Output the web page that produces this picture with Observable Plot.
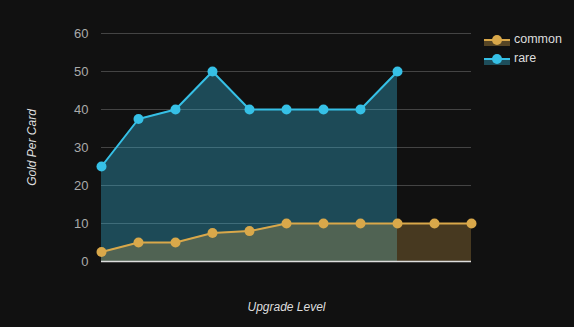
<!DOCTYPE html>
<html><head><meta charset="utf-8">
<script src="https://cdn.jsdelivr.net/npm/d3@7"></script>
<script src="https://cdn.jsdelivr.net/npm/@observablehq/plot@0.6"></script>
<style>
html,body{margin:0;padding:0;background:#111;}
#wrap{position:relative;width:574px;height:327px;overflow:hidden;background:#111;font-family:"Liberation Sans",Arial,sans-serif;}
#legend{position:absolute;left:484px;top:30px;color:#ddd;font-size:12.5px;line-height:19px;}
#legend div{display:flex;align-items:center;height:19px;}
#legend svg{margin-right:4px;}
</style></head>
<body><div id="wrap"><div id="chart"></div><div id="legend"></div></div>
<script>
const levels = [1,2,3,4,5,6,7,8,9,10,11];
const common = [2.5,5,5,7.5,8,10,10,10,10,10,10];
const rare = [25,37.5,40,50,40,40,40,40,50];
const yTicks = [0,10,20,30,40,50,60];
const seriesNames = ["common","rare"];
const colors = {common:"#d9a84a", rare:"#36c0e6"};

const commonData = common.map((v,i)=>({x:levels[i], y:v}));
const rareData = rare.map((v,i)=>({x:levels[i], y:v}));

const chart = Plot.plot({
  width:574, height:327,
  marginLeft:101, marginRight:103, marginTop:33, marginBottom:66,
  style:{background:"#111", color:"#aaa", fontSize:"12px", fontFamily:"Liberation Sans, Arial, sans-serif"},
  x:{domain:[1,11], axis:null},
  y:{domain:[0,60], ticks:yTicks, grid:false, label:null},
  marks:[
    Plot.gridY(yTicks, {stroke:"#444", strokeOpacity:1, strokeWidth:1}),
    Plot.areaY(rareData, {x:"x", y:"y", fill:colors.rare, fillOpacity:0.33}),
    Plot.areaY(commonData, {x:"x", y:"y", fill:colors.common, fillOpacity:0.27}),
    Plot.ruleY([0], {stroke:"#ddd", strokeWidth:1.5}),
    Plot.lineY(rareData, {x:"x", y:"y", stroke:colors.rare, strokeWidth:2}),
    Plot.lineY(commonData, {x:"x", y:"y", stroke:colors.common, strokeWidth:2}),
    Plot.dot(rareData, {x:"x", y:"y", fill:colors.rare, r:5}),
    Plot.dot(commonData, {x:"x", y:"y", fill:colors.common, r:5}),
    Plot.axisY(yTicks, {tickSize:0, tickPadding:13, fill:"#aaa", fontSize:13, label:null}),
    Plot.text(["Gold Per Card"], {frameAnchor:"left", textAnchor:"middle", dx:-69, rotate:-90, fill:"#ddd", fontStyle:"italic", fontSize:12}),
    Plot.text(["Upgrade Level"], {frameAnchor:"bottom", dy:49, fill:"#ddd", fontStyle:"italic", fontSize:12})
  ]
});
document.getElementById("chart").appendChild(chart);

const legend = document.getElementById("legend");
seriesNames.forEach(name=>{
  const c = colors[name];
  const row = document.createElement("div");
  row.innerHTML = `<svg width="26" height="14"><rect x="0" y="7" width="26" height="6" fill="${c}" fill-opacity="0.35"/><line x1="0" y1="7" x2="26" y2="7" stroke="${c}" stroke-width="2"/><circle cx="13" cy="7" r="5" fill="${c}"/></svg><span>${name}</span>`;
  legend.appendChild(row);
});
</script></body></html>
